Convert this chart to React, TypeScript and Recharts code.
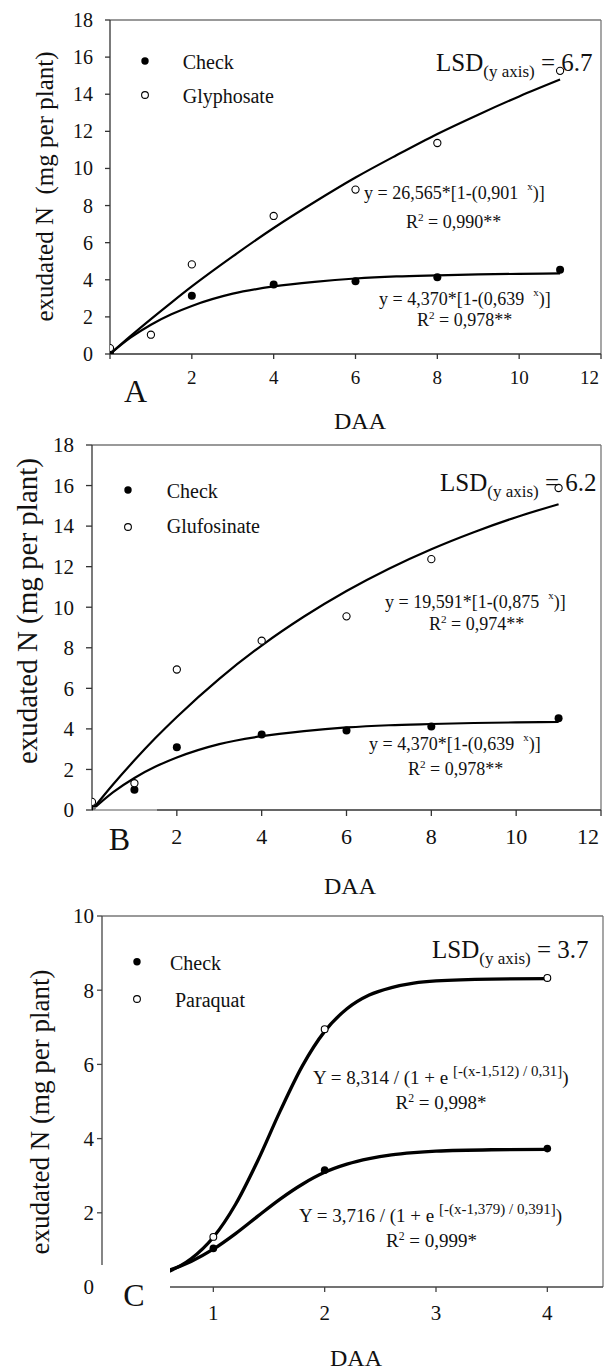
import React from 'react';
import { ComposedChart, Line, Scatter, XAxis, YAxis, ReferenceLine, Legend } from 'recharts';

const FONT = "'Liberation Serif', 'Times New Roman', serif";

// ---- Panel A: Check vs Glyphosate ----
const daysAB = [0, 1, 2, 4, 6, 8, 11];
const checkA = [0.1, null, 3.14, 3.75, 3.92, 4.14, 4.54];
const glyphosateA = [0.32, 1.04, 4.83, 7.44, 8.86, 11.37, 15.26];

// ---- Panel B: Check vs Glufosinate ----
const checkB = [0.15, 1.0, 3.1, 3.72, 3.92, 4.12, 4.53];
const glufosinateB = [0.4, 1.32, 6.93, 8.35, 9.55, 12.37, 15.88];

// fitted curves (panels A and B)
const fitDaysAB = [0, 0.5, 1, 1.5, 2, 3, 4, 5, 6, 7, 8, 9, 10, 11];
const checkFitAB = [0, 0.88, 1.58, 2.14, 2.59, 3.25, 3.64, 3.89, 4.07, 4.18, 4.24, 4.29, 4.32, 4.34];
const glyphosateFitA = [0, 0.96, 1.88, 2.77, 3.64, 5.26, 6.79, 8.19, 9.51, 10.71, 11.86, 12.9, 13.88, 14.79];
const glufosinateFitB = [0, 1.27, 2.45, 3.56, 4.59, 6.47, 8.11, 9.54, 10.8, 11.9, 12.86, 13.7, 14.44, 15.08];

// ---- Panel C: Check vs Paraquat ----
const daysC = [1, 2, 4];
const checkC = [1.04, 3.15, 3.73];
const paraquatC = [1.35, 6.95, 8.33];
const fitDaysC = [0.5, 0.6, 0.8, 1.0, 1.2, 1.4, 1.6, 1.8, 2.0, 2.2, 2.4, 2.6, 2.8, 3.0, 3.5, 4.0];
const checkFitC = [0.36, 0.45, 0.69, 1.02, 1.44, 1.91, 2.37, 2.77, 3.09, 3.31, 3.46, 3.56, 3.62, 3.66, 3.7, 3.71];
const paraquatFitC = [0.31, 0.42, 0.76, 1.34, 2.23, 3.41, 4.74, 5.96, 6.89, 7.5, 7.87, 8.07, 8.19, 8.25, 8.3, 8.31];

// axis ticks
const yTicksAB = [0, 2, 4, 6, 8, 10, 12, 14, 16, 18];
const xTicksA = [0, 2, 4, 6, 8, 10, 12];
const xTicksB = [2, 4, 6, 8, 10, 12];
const yTicksC = [0, 2, 4, 6, 8, 10];
const xTicksC = [1, 2, 3, 4];

type Pt = { x: number; y: number };
const zip = (xs: number[], ys: (number | null)[]): Pt[] =>
  xs.map((x, i) => ({ x, y: ys[i] as number })).filter((p) => p.y !== null && p.y !== undefined);

const filledDot = (r: number) => (p: any) => <circle cx={p.cx} cy={p.cy} r={r} fill="#000" />;
const openDot = (r: number) => (p: any) => (
  <circle cx={p.cx} cy={p.cy} r={r} fill="#fff" stroke="#000" strokeWidth={1.1} />
);

const yTickText = (font: number) => (p: any) => (
  <text x={p.x} y={p.y} dy="0.35em" textAnchor="end" fontSize={font} fontFamily={FONT} fill="#111">
    {p.payload.value}
  </text>
);
// the last label sits flush against the frame's right edge
const xTickText = (font: number, hideZero: boolean, maxX: number) => (p: any) => {
  const v = p.payload.value;
  const last = v === maxX;
  return (
    <text
      x={last ? p.x + 1 : p.x}
      y={p.y}
      dy="0.71em"
      textAnchor={last ? 'end' : 'middle'}
      fontSize={font}
      fontFamily={FONT}
      fill="#111"
    >
      {hideZero && v === 0 ? '' : v}
    </text>
  );
};

type Series = { name: string; pts: Pt[]; open: boolean };
type LegendCfg = {
  left: number;
  top: number;
  rows: { cy: number; tx: number; base: number }[];
};

type PanelProps = {
  top: number;
  height: number;
  margin: { top: number; right: number; bottom: number; left: number };
  yWidth: number;
  xHeight: number;
  xDomain: [number, number];
  xTicks: number[];
  hideZeroX?: boolean;
  yDomain: [number, number];
  yTicks: number[];
  yTick: { size: number; margin: number; font: number };
  xTick: { size: number; margin: number; font: number };
  fits: Pt[][];
  lineWidth: number;
  series: Series[];
  dotR: number;
  legend: LegendCfg;
  axisColor: string;
};

function Panel(props: PanelProps) {
  const { legend } = props;
  const renderLegend = () => (
    <svg width={200} height={80} style={{ overflow: 'visible' }}>
      {props.series.map((s, i) => {
        const row = legend.rows[i];
        return (
          <g key={s.name}>
            {s.open ? (
              <circle cx={15} cy={row.cy} r={3.4} fill="#fff" stroke="#000" strokeWidth={1.1} />
            ) : (
              <circle cx={15} cy={row.cy} r={3.7} fill="#000" />
            )}
            <text x={row.tx} y={row.base} fontSize={20} fontFamily={FONT} fill="#111">
              {s.name}
            </text>
          </g>
        );
      })}
    </svg>
  );

  return (
    <div style={{ position: 'absolute', left: 0, top: props.top, width: 606, height: props.height, fontFamily: FONT }}>
      <ComposedChart width={606} height={props.height} margin={props.margin}>
        <XAxis
          type="number"
          dataKey="x"
          domain={props.xDomain}
          ticks={props.xTicks}
          allowDataOverflow
          height={props.xHeight}
          tickSize={props.xTick.size}
          tickMargin={props.xTick.margin}
          axisLine={{ stroke: props.axisColor, strokeWidth: 1.3 }}
          tickLine={{ stroke: props.axisColor, strokeWidth: 1.3 }}
          tick={xTickText(props.xTick.font, !!props.hideZeroX, props.xDomain[1])}
        />
        <YAxis
          type="number"
          dataKey="y"
          domain={props.yDomain}
          ticks={props.yTicks}
          allowDataOverflow
          width={props.yWidth}
          tickSize={props.yTick.size}
          tickMargin={props.yTick.margin}
          axisLine={{ stroke: props.axisColor, strokeWidth: 1.3 }}
          tickLine={{ stroke: props.axisColor, strokeWidth: 1.3 }}
          tick={yTickText(props.yTick.font)}
        />
        <ReferenceLine y={props.yDomain[1]} stroke="#777" strokeWidth={1.3} />
        <ReferenceLine x={props.xDomain[1]} stroke="#777" strokeWidth={1.3} />
        {props.fits.map((f, i) => (
          <Line
            key={'fit' + i}
            data={f}
            dataKey="y"
            type="monotone"
            stroke="#000"
            strokeWidth={props.lineWidth}
            dot={false}
            activeDot={false}
            legendType="none"
            isAnimationActive={false}
          />
        ))}
        {props.series.map((s) => (
          <Scatter
            key={s.name}
            name={s.name}
            data={s.pts}
            dataKey="y"
            fill={s.open ? '#fff' : '#000'}
            shape={s.open ? openDot(props.dotR - 0.4) : filledDot(props.dotR)}
            isAnimationActive={false}
          />
        ))}
        <Legend
          layout="horizontal"
          align="center"
          verticalAlign="middle"
          content={renderLegend}
          wrapperStyle={{ left: legend.left, top: legend.top, width: 200, height: 80 }}
        />
      </ComposedChart>
    </div>
  );
}

// fitted-equation text with a superscript part
function Equation(p: { x: number; y: number; lead: string; sup: string; tail: string; size: number; supSize: number; shift: number }) {
  return (
    <text x={p.x} y={p.y} fontSize={p.size} fontFamily={FONT} fill="#111" style={{ whiteSpace: 'pre' }}>
      {p.lead}
      <tspan dy={-p.shift} fontSize={p.supSize}>
        {p.sup}
      </tspan>
      <tspan dy={p.shift}>{p.tail}</tspan>
    </text>
  );
}

function RSquared(p: { x: number; y: number; value: string; size: number }) {
  return (
    <text x={p.x} y={p.y} fontSize={p.size} fontFamily={FONT} fill="#111" style={{ whiteSpace: 'pre' }}>
      R
      <tspan dy={-7} fontSize={p.size * 0.62}>
        2
      </tspan>
      <tspan dy={7}>{' = ' + p.value}</tspan>
    </text>
  );
}

function Lsd(p: { x: number; y: number; value: string }) {
  return (
    <text x={p.x} y={p.y} fontSize={25} fontFamily={FONT} fill="#111" style={{ whiteSpace: 'pre' }}>
      LSD
      <tspan dy={6} fontSize={17}>
        (y axis)
      </tspan>
      <tspan dy={-6}>{' = ' + p.value}</tspan>
    </text>
  );
}

function YTitle(p: { cx: number; cy: number; size: number; text: string }) {
  return (
    <text
      x={p.cx}
      y={p.cy}
      fontSize={p.size}
      fontFamily={FONT}
      fill="#111"
      textAnchor="middle"
      dominantBaseline="central"
      transform={`rotate(-90 ${p.cx} ${p.cy})`}
      style={{ whiteSpace: 'pre' }}
    >
      {p.text}
    </text>
  );
}

function XTitle(p: { cx: number; y: number }) {
  return (
    <text x={p.cx} y={p.y} fontSize={24} fontFamily={FONT} fill="#111" textAnchor="middle">
      DAA
    </text>
  );
}

function PanelLetter(p: { cx: number; y: number; t: string }) {
  return (
    <text x={p.cx} y={p.y} fontSize={32} fontFamily={FONT} fill="#111" textAnchor="middle">
      {p.t}
    </text>
  );
}

export default function App() {
  return (
    <div style={{ position: 'absolute', left: 0, top: 0, width: 606, height: 1372, background: '#fff', overflow: 'hidden', fontFamily: FONT }}>
      <Panel
        top={0}
        height={440}
        margin={{ top: 20, right: 5, bottom: 56, left: 0 }}
        yWidth={110}
        xHeight={30}
        xDomain={[0, 12]}
        xTicks={xTicksA}
        hideZeroX
        yDomain={[0, 18]}
        yTicks={yTicksAB}
        yTick={{ size: 5, margin: 12, font: 20 }}
        xTick={{ size: 5, margin: 12, font: 19 }}
        fits={[zip(fitDaysAB, glyphosateFitA), zip(fitDaysAB, checkFitAB)]}
        lineWidth={2.2}
        series={[
          { name: 'Check', pts: zip(daysAB, checkA), open: false },
          { name: 'Glyphosate', pts: zip(daysAB, glyphosateA), open: true },
        ]}
        dotR={4}
        legend={{ left: 130, top: 40, rows: [{ cy: 21, tx: 52.7, base: 29 }, { cy: 55, tx: 52.7, base: 63 }] }}
        axisColor="#333"
      />
      <Panel
        top={430}
        height={460}
        margin={{ top: 15, right: 5, bottom: 50, left: 0 }}
        yWidth={92}
        xHeight={30}
        xDomain={[0, 12]}
        xTicks={xTicksB}
        yDomain={[0, 18]}
        yTicks={yTicksAB}
        yTick={{ size: 6, margin: 12, font: 21 }}
        xTick={{ size: 6, margin: 12, font: 22 }}
        fits={[zip(fitDaysAB, glufosinateFitB), zip(fitDaysAB, checkFitAB)]}
        lineWidth={2.2}
        series={[
          { name: 'Check', pts: zip(daysAB, checkB), open: false },
          { name: 'Glufosinate', pts: zip(daysAB, glufosinateB), open: true },
        ]}
        dotR={4}
        legend={{ left: 113, top: 40, rows: [{ cy: 20, tx: 53.7, base: 28.3 }, { cy: 57, tx: 53.7, base: 63.3 }] }}
        axisColor="#333"
      />
      <Panel
        top={895}
        height={477}
        margin={{ top: 21, right: 3, bottom: 55, left: 0 }}
        yWidth={102}
        xHeight={30}
        xDomain={[0, 4.5]}
        xTicks={xTicksC}
        yDomain={[0, 10]}
        yTicks={yTicksC}
        yTick={{ size: 5, margin: 3, font: 21 }}
        xTick={{ size: 5, margin: 13, font: 21 }}
        fits={[zip(fitDaysC, paraquatFitC), zip(fitDaysC, checkFitC)]}
        lineWidth={3.3}
        series={[
          { name: 'Check', pts: zip(daysC, checkC), open: false },
          { name: 'Paraquat', pts: zip(daysC, paraquatC), open: true },
        ]}
        dotR={3.8}
        legend={{ left: 122, top: 45, rows: [{ cy: 21.7, tx: 48, base: 30 }, { cy: 59, tx: 53, base: 67.3 }] }}
        axisColor="#444"
      />

      {/* titles, fitted equations and panel letters */}
      <svg width={606} height={1372} style={{ position: 'absolute', left: 0, top: 0, pointerEvents: 'none' }}>
        <YTitle cx={44} cy={186.5} size={25} text="exudated N  (mg per plant)" />
        <YTitle cx={27} cy={611} size={29} text="exudated N (mg per plant)" />
        <YTitle cx={40} cy={1112} size={27} text="exudated N (mg per plant)" />

        <XTitle cx={360} y={429} />
        <XTitle cx={350} y={894} />
        <XTitle cx={356} y={1366} />

        <Lsd x={436} y={70.7} value="6.7" />
        <Lsd x={440} y={490.7} value="6.2" />
        <Lsd x={432} y={958} value="3.7" />

        <Equation x={364} y={199} lead="y = 26,565*[1-(0,901  " sup="x" tail=")]" size={18} supSize={11} shift={9} />
        <RSquared x={406} y={228} value="0,990**" size={18} />
        <Equation x={379} y={305} lead="y = 4,370*[1-(0,639  " sup="x" tail=")]" size={18} supSize={11} shift={9} />
        <RSquared x={417} y={326} value="0,978**" size={18} />

        <Equation x={385} y={607.5} lead="y = 19,591*[1-(0,875  " sup="x" tail=")]" size={18} supSize={11} shift={9} />
        <RSquared x={429} y={629.5} value="0,974**" size={18} />
        <Equation x={369} y={750} lead="y = 4,370*[1-(0,639  " sup="x" tail=")]" size={18} supSize={11} shift={9} />
        <RSquared x={408} y={775} value="0,978**" size={18} />

        <Equation x={313} y={1084} lead="Y = 8,314 / (1 + e " sup="[-(x-1,512) / 0,31]" tail=")" size={19} supSize={15} shift={8} />
        <RSquared x={395.5} y={1108.5} value="0,998*" size={19} />
        <Equation x={299} y={1222} lead="Y = 3,716 / (1 + e " sup="[-(x-1,379) / 0,391]" tail=")" size={19} supSize={15} shift={8} />
        <RSquared x={386} y={1247} value="0,999*" size={19} />

        <rect x={93} y={807} width={64} height={6} fill="#fff" opacity={0.45} />
        <rect x={96} y={1265} width={74} height={75} fill="#fff" />

        <PanelLetter cx={135.5} y={401.7} t="A" />
        <PanelLetter cx={119.5} y={850} t="B" />
        <PanelLetter cx={134} y={1305.7} t="C" />
      </svg>
    </div>
  );
}
